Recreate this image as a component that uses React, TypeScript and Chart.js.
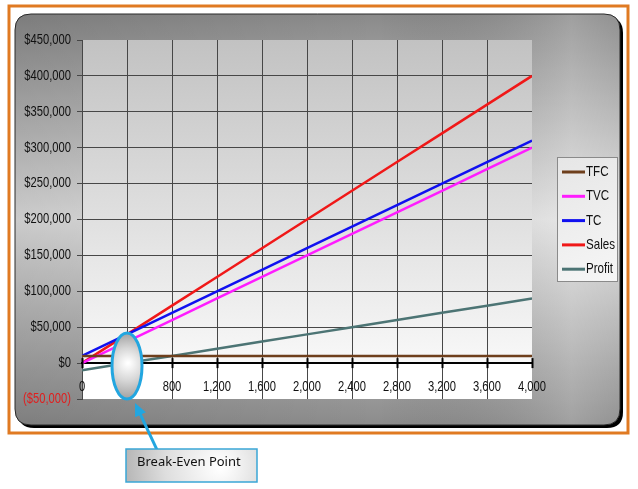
import React, { useEffect, useRef } from 'react';
import { Chart, registerables } from 'chart.js';

Chart.register(...registerables);

// ---- data ----
const units = [0, 400, 800, 1200, 1600, 2000, 2400, 2800, 3200, 3600, 4000];
const tfc = [10000, 10000, 10000, 10000, 10000, 10000, 10000, 10000, 10000, 10000, 10000];
const tvc = [0, 30000, 60000, 90000, 120000, 150000, 180000, 210000, 240000, 270000, 300000];
const tc = [10000, 40000, 70000, 100000, 130000, 160000, 190000, 220000, 250000, 280000, 310000];
const sales = [0, 40000, 80000, 120000, 160000, 200000, 240000, 280000, 320000, 360000, 400000];
const profit = [-10000, 0, 10000, 20000, 30000, 40000, 50000, 60000, 70000, 80000, 90000];

const seriesNames = ['TFC', 'TVC', 'TC', 'Sales', 'Profit'];
const seriesValues = [tfc, tvc, tc, sales, profit];
const seriesColors = ['#6e3f1c', '#ff1cff', '#1010f0', '#f01818', '#4c7474'];

const yMin = -50000;
const yMax = 450000;
const yStep = 50000;
const xMin = 0;
const xMax = 4000;
const xStep = 400;

const breakEvenUnits = 400;
const breakEvenMarkerValue = -4000;
const calloutText = 'Break-Even Point';

const FONT = "'Liberation Sans', Arial, sans-serif";
const SQUEEZE = 0.8;
const GRID = '#474747';

function roundRect(ctx: CanvasRenderingContext2D, x: number, y: number, w: number, h: number, r: number) {
  ctx.beginPath();
  ctx.moveTo(x + r, y);
  ctx.lineTo(x + w - r, y);
  ctx.quadraticCurveTo(x + w, y, x + w, y + r);
  ctx.lineTo(x + w, y + h - r);
  ctx.quadraticCurveTo(x + w, y + h, x + w - r, y + h);
  ctx.lineTo(x + r, y + h);
  ctx.quadraticCurveTo(x, y + h, x, y + h - r);
  ctx.lineTo(x, y + r);
  ctx.quadraticCurveTo(x, y, x + r, y);
  ctx.closePath();
}

function money(v: number) {
  const s = '$' + Math.abs(v).toLocaleString('en-US');
  return v < 0 ? '(' + s + ')' : s;
}

function condensedText(
  ctx: CanvasRenderingContext2D,
  text: string,
  x: number,
  y: number,
  align: CanvasTextAlign,
  color: string,
  size: number
) {
  ctx.save();
  ctx.translate(x, y);
  ctx.scale(SQUEEZE, 1);
  ctx.font = size + 'px ' + FONT;
  ctx.textAlign = align;
  ctx.textBaseline = 'middle';
  ctx.fillStyle = color;
  ctx.fillText(text, 0, 0);
  ctx.restore();
}

const backgroundPlugin = {
  id: 'bgPanel',
  beforeDraw(chart: any) {
    const ctx: CanvasRenderingContext2D = chart.ctx;
    ctx.save();
    ctx.fillStyle = '#ffffff';
    ctx.fillRect(0, 0, chart.width, chart.height);

    // orange frame
    ctx.strokeStyle = '#e07a22';
    ctx.lineWidth = 3;
    ctx.strokeRect(9, 6, 619, 427);

    // shadow
    roundRect(ctx, 18, 17, 605, 411, 16);
    ctx.fillStyle = '#000';
    ctx.fill();

    // gray panel
    roundRect(ctx, 15, 14, 605, 411, 16);
    const g = ctx.createLinearGradient(0, 14, 0, 425);
    g.addColorStop(0, '#8a8a8a');
    g.addColorStop(0.5, '#e2e2e2');
    g.addColorStop(1, '#8c8c8c');
    ctx.fillStyle = g;
    ctx.fill();
    const g2 = ctx.createLinearGradient(15, 0, 620, 0);
    g2.addColorStop(0, 'rgba(0,0,0,0.10)');
    g2.addColorStop(0.6, 'rgba(0,0,0,0)');
    g2.addColorStop(0.92, 'rgba(255,255,255,0.18)');
    g2.addColorStop(1, 'rgba(255,255,255,0.05)');
    ctx.fillStyle = g2;
    ctx.fill();
    ctx.strokeStyle = '#2a2a2a';
    ctx.lineWidth = 1;
    ctx.stroke();

    // plot area background
    const { left, top, right, bottom } = chart.chartArea;
    const zeroY = chart.scales.y.getPixelForValue(0);
    const g3 = ctx.createLinearGradient(0, top, 0, zeroY);
    g3.addColorStop(0, '#c2c2c2');
    g3.addColorStop(1, '#f8f8f8');
    ctx.fillStyle = g3;
    ctx.fillRect(left, top, right - left, zeroY - top);
    ctx.fillStyle = '#ffffff';
    ctx.fillRect(left, zeroY, right - left, bottom - zeroY);
    ctx.restore();
  },
};

const overlayPlugin = {
  id: 'overlay',
  afterDraw(chart: any) {
    const ctx: CanvasRenderingContext2D = chart.ctx;
    const xs = chart.scales.x;
    const ys = chart.scales.y;
    const zeroY = ys.getPixelForValue(0);
    ctx.save();

    // x-axis tick marks crossing the zero line
    ctx.strokeStyle = '#000';
    ctx.lineWidth = 2;
    xs.ticks.forEach((t: any) => {
      const px = Math.round(xs.getPixelForValue(t.value)) + 0.5;
      ctx.beginPath();
      ctx.moveTo(px, zeroY - 5);
      ctx.lineTo(px, zeroY + 5);
      ctx.stroke();
    });

    // y tick labels (condensed)
    ys.ticks.forEach((t: any) => {
      const py = ys.getPixelForValue(t.value);
      condensedText(ctx, money(t.value), ys.right - 11, py, 'right', t.value < 0 ? '#e01e1e' : '#111', 14);
    });
    // x tick labels (condensed)
    xs.ticks.forEach((t: any) => {
      const px = xs.getPixelForValue(t.value);
      condensedText(ctx, Number(t.value).toLocaleString('en-US'), px, zeroY + 24, 'center', '#111', 14);
    });

    // legend
    const lx = 557, ly = 157, lw = 60, lh = 124;
    const lg = ctx.createLinearGradient(lx, ly, lx + lw, ly + lh);
    lg.addColorStop(0, '#e6e6e6');
    lg.addColorStop(1, '#f6f6f6');
    ctx.fillStyle = lg;
    ctx.fillRect(lx, ly, lw, lh);
    ctx.strokeStyle = '#8a8a8a';
    ctx.lineWidth = 1;
    ctx.strokeRect(lx + 0.5, ly + 0.5, lw, lh);
    seriesNames.forEach((name, i) => {
      const y = ly + 15 + i * 24.3;
      ctx.strokeStyle = seriesColors[i];
      ctx.lineWidth = 3;
      ctx.beginPath();
      ctx.moveTo(lx + 5, y);
      ctx.lineTo(lx + 28, y);
      ctx.stroke();
      condensedText(ctx, name, lx + 29, y, 'left', '#111', 14.5);
    });

    // break-even ellipse
    const cx = xs.getPixelForValue(breakEvenUnits);
    const cy = ys.getPixelForValue(breakEvenMarkerValue);
    const rx = 15, ry = 33;
    const eg = ctx.createRadialGradient(cx + 1, cy - 3, 1, cx, cy, 34);
    eg.addColorStop(0, '#ffffff');
    eg.addColorStop(0.45, '#d8d8d8');
    eg.addColorStop(1, '#9e9e9e');
    ctx.beginPath();
    ctx.ellipse(cx, cy, rx, ry, 0, 0, Math.PI * 2);
    ctx.fillStyle = eg;
    ctx.fill();
    ctx.strokeStyle = '#22a6e0';
    ctx.lineWidth = 3;
    ctx.stroke();

    // arrow
    const tipX = cx + 8, tipY = cy + ry + 4;
    const tailX = cx + 30, tailY = cy + ry + 51;
    const ang = Math.atan2(tipY - tailY, tipX - tailX);
    ctx.strokeStyle = '#22a6e0';
    ctx.fillStyle = '#22a6e0';
    ctx.lineWidth = 3;
    ctx.beginPath();
    ctx.moveTo(tailX, tailY);
    ctx.lineTo(tipX - Math.cos(ang) * 8, tipY - Math.sin(ang) * 8);
    ctx.stroke();
    ctx.beginPath();
    ctx.moveTo(tipX, tipY);
    ctx.lineTo(tipX - Math.cos(ang) * 13 + Math.cos(ang + Math.PI / 2) * 6, tipY - Math.sin(ang) * 13 + Math.sin(ang + Math.PI / 2) * 6);
    ctx.lineTo(tipX - Math.cos(ang) * 13 - Math.cos(ang + Math.PI / 2) * 6, tipY - Math.sin(ang) * 13 - Math.sin(ang + Math.PI / 2) * 6);
    ctx.closePath();
    ctx.fill();

    // callout box
    const bx = 126, by = 449, bw = 131, bh = 33;
    const bg = ctx.createRadialGradient(bx + 95, by + 18, 2, bx + 80, by + 16, 95);
    bg.addColorStop(0, '#ffffff');
    bg.addColorStop(0.5, '#dedede');
    bg.addColorStop(1, '#a8a8a8');
    ctx.fillStyle = bg;
    ctx.fillRect(bx, by, bw, bh);
    ctx.strokeStyle = '#3aa6d6';
    ctx.lineWidth = 1.5;
    ctx.strokeRect(bx, by, bw, bh);
    ctx.fillStyle = '#111';
    ctx.font = "13px 'Comic Sans MS', 'Noto Sans', sans-serif";
    ctx.textBaseline = 'middle';
    ctx.textAlign = 'left';
    ctx.fillText(calloutText, bx + 11, by + 13);

    ctx.restore();
  },
};

export default function App() {
  const ref = useRef<HTMLCanvasElement | null>(null);

  useEffect(() => {
    document.body.style.margin = '0';
    const canvas = ref.current;
    if (!canvas) return;
    const chart = new Chart(canvas, {
      type: 'line',
      data: {
        datasets: seriesNames.map((name, i) => ({
          label: name,
          data: units.map((u, j) => ({ x: u, y: seriesValues[i][j] })),
          borderColor: seriesColors[i],
          backgroundColor: seriesColors[i],
          borderWidth: 2.5,
          pointRadius: 0,
          tension: 0,
          fill: false,
        })),
      },
      options: {
        animation: false,
        responsive: false,
        devicePixelRatio: 1,
        layout: { padding: { left: 22, right: 106, top: 40, bottom: 90 } },
        plugins: {
          legend: { display: false },
          tooltip: { enabled: false },
        },
        scales: {
          x: {
            type: 'linear',
            position: { y: 0 },
            min: xMin,
            max: xMax,
            grid: {
              color: (c: any) => (c.tick && c.tick.value === xMax ? 'rgba(0,0,0,0)' : GRID),
              lineWidth: 1,
              drawTicks: false,
            },
            border: { color: '#000', width: 2 },
            ticks: {
              stepSize: xStep,
              display: false,
              autoSkip: false,
              callback: (v: any) => Number(v).toLocaleString('en-US'),
            },
          },
          y: {
            type: 'linear',
            min: yMin,
            max: yMax,
            afterFit: (s: any) => {
              s.width = 60;
            },
            grid: {
              color: (c: any) =>
                c.tick && (c.tick.value === yMin || c.tick.value === yMax) ? 'rgba(0,0,0,0)' : GRID,
              tickColor: GRID,
              tickLength: 5,
              lineWidth: 1,
            },
            border: { color: GRID, width: 1 },
            ticks: {
              stepSize: yStep,
              display: false,
              callback: (v: any) => money(Number(v)),
            },
          },
        },
      },
      plugins: [backgroundPlugin, overlayPlugin],
    } as any);
    return () => chart.destroy();
  }, []);

  return (
    <div style={{ width: 638, height: 489 }}>
      <canvas ref={ref} width={638} height={489} style={{ display: 'block' }} />
    </div>
  );
}
